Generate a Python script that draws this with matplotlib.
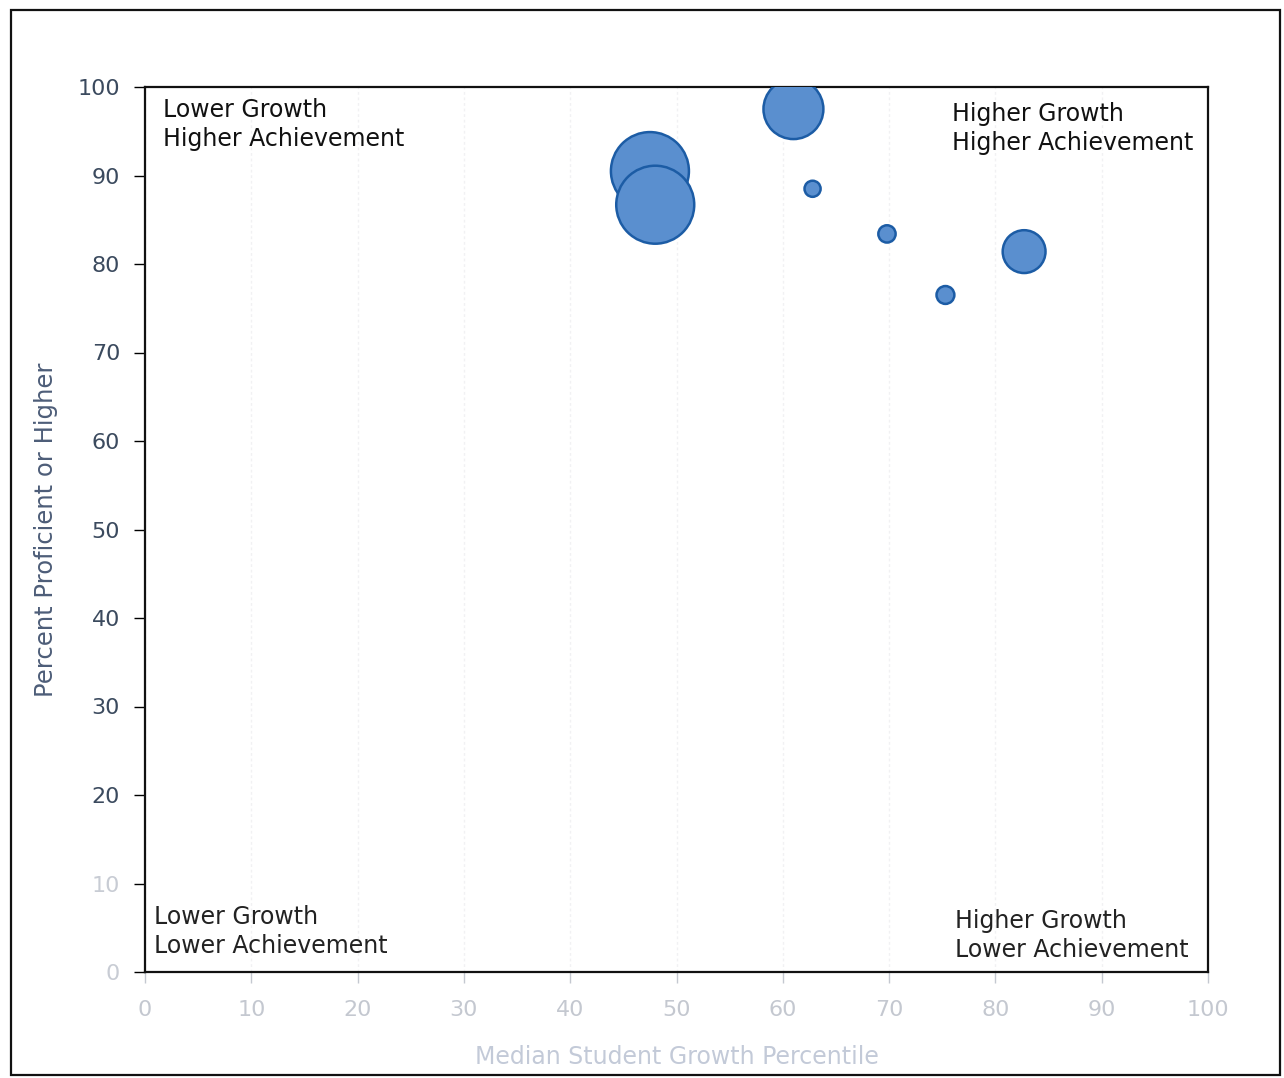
import matplotlib
matplotlib.use("Agg")
import matplotlib.pyplot as plt
from matplotlib.patches import Rectangle

# Subgroup bubbles: median growth percentile, percent proficient, group size
growth = [61.0, 47.5, 48.0, 62.8, 69.8, 82.7, 75.3]
proficient = [97.5, 90.5, 86.7, 88.5, 83.4, 81.4, 76.5]
n_students = [180, 305, 305, 13, 15, 92, 16]

x_ticks = [0, 10, 20, 30, 40, 50, 60, 70, 80, 90, 100]
y_ticks = [0, 10, 20, 30, 40, 50, 60, 70, 80, 90, 100]

quadrant_labels = {
    "top_left": "Lower Growth\nHigher Achievement",
    "top_right": "Higher Growth\nHigher Achievement",
    "bottom_left": "Lower Growth\nLower Achievement",
    "bottom_right": "Higher Growth\nLower Achievement",
}

W, H, DPI = 1284, 1078, 100
fig = plt.figure(figsize=(W / DPI, H / DPI), dpi=DPI)
plt.rcParams["font.family"] = ["DejaVu Sans"]

# outer frame around the chart
fig.patches.append(Rectangle((11 / W, 3 / H), (1280 - 11) / W, (1068 - 3) / H,
                             transform=fig.transFigure, fill=False,
                             edgecolor="#111111", linewidth=1.6))

left, right, top, bottom = 145, 1208, 87, 972
ax = fig.add_axes([left / W, 1 - bottom / H, (right - left) / W, (bottom - top) / H])
ax.set_xlim(0, 100)
ax.set_ylim(0, 100)

for s in ax.spines.values():
    s.set_color("#111111")
    s.set_linewidth(1.6)

# faint vertical guides
ax.set_xticks(x_ticks)
ax.set_yticks(y_ticks)
ax.grid(axis="x", color="#f1f1f3", linewidth=1.0, linestyle=(0, (2, 2)))
ax.set_axisbelow(True)

size_scale = 10.34
ax.scatter(growth, proficient, s=[n * size_scale for n in n_students],
           facecolor="#5a8fcf", edgecolor="#1c5ca5", linewidth=1.8, zorder=3)

ax.tick_params(axis="both", length=8, width=1.0, labelsize=16)
ax.tick_params(axis="y", pad=10)
ax.tick_params(axis="x", pad=12, colors="#c4c8d0")
ax.set_xticklabels([str(v) for v in x_ticks])
ax.set_yticklabels([str(v) for v in y_ticks])

light = "#c8ccd4"
dark = "#3b4a5e"
for v, tick in zip(y_ticks, ax.yaxis.get_major_ticks()):
    c = light if v < 20 else dark
    tick.label1.set_color(c)
    tick.tick1line.set_color("#c8c8c8" if v < 20 else "#6d7480")

ax.set_xlabel("Median Student Growth Percentile", fontsize=17,
              color="#c3cad8", labelpad=18)
ax.set_ylabel("Percent Proficient or Higher", fontsize=17.5,
              color="#4d5d78", labelpad=14)

qfont = dict(fontsize=17, linespacing=1.28, xycoords="axes fraction",
             textcoords="offset pixels")
ax.annotate(quadrant_labels["top_left"], (0, 1), xytext=(18, -11),
            ha="left", va="top", color="#111111", **qfont)
ax.annotate(quadrant_labels["top_right"], (1, 1), xytext=(-15, -15),
            ha="right", va="top", multialignment="left", color="#111111", **qfont)
ax.annotate(quadrant_labels["bottom_left"], (0, 0), xytext=(9, 14),
            ha="left", va="bottom", color="#222222", **qfont)
ax.annotate(quadrant_labels["bottom_right"], (1, 0), xytext=(-19, 10),
            ha="right", va="bottom", multialignment="left", color="#222222", **qfont)

fig.savefig("out.png", dpi=DPI)
